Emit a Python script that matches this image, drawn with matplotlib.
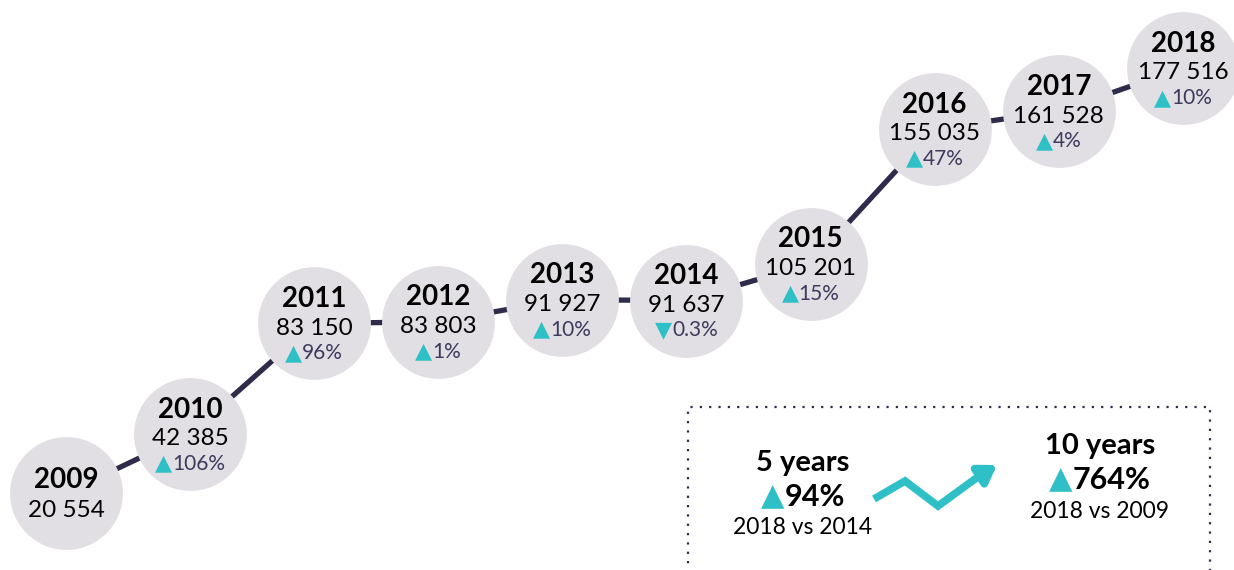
import matplotlib
matplotlib.use("Agg")
import matplotlib.pyplot as plt
from matplotlib.patches import Rectangle
from matplotlib.offsetbox import TextArea, HPacker, AnnotationBbox

# data
years = [2009, 2010, 2011, 2012, 2013, 2014, 2015, 2016, 2017, 2018]
values = [20554, 42385, 83150, 83803, 91927, 91637, 105201, 155035, 161528, 177516]
changes = ["", "106%", "96%", "1%", "10%", "0.3%", "15%", "47%", "4%", "10%"]
directions = ["", "up", "up", "up", "up", "down", "up", "up", "up", "up"]

summary_titles = ["5 years", "10 years"]
summary_pcts = ["94%", "764%"]
summary_subs = ["2018 vs 2014", "2018 vs 2009"]

NAVY = "#2f2b4a"
TEAL = "#2fbfc6"
CIRCLE = "#e1dfe3"
PCT_TXT = "#3e3a5e"
FONT = ["Lato", "DejaVu Sans"]

plt.rcParams["font.family"] = FONT

fig = plt.figure(figsize=(12.34, 5.70), dpi=100)
ax = fig.add_axes([0, 0, 1, 1])
ax.set_xlim(2008.468, 2018.412)
ax.set_ylim(-7880, 202607)
ax.axis("off")

ax.plot(years, values, color=NAVY, lw=3.8, zorder=1, solid_capstyle="butt")
ax.scatter(years, values, s=6600, color=CIRCLE, zorder=2, linewidths=0)

for yr, v, ch, d in zip(years, values, changes, directions):
    num = f"{v:,}".replace(",", " ")
    if ch:
        ax.annotate(str(yr), (yr, v), xytext=(0, 17.5), textcoords="offset points",
                    ha="center", va="center", fontsize=20, fontweight="bold",
                    color="black", zorder=3)
        ax.annotate(num, (yr, v), xytext=(0, -3.5), textcoords="offset points",
                    ha="center", va="center", fontsize=17.5, color="black", zorder=3)
        tri = "▲" if d == "up" else "▼"
        box = HPacker(children=[
            TextArea(tri, textprops=dict(color=TEAL, fontsize=16, family=["DejaVu Sans"])),
            TextArea(ch, textprops=dict(color=PCT_TXT, fontsize=15, family=FONT)),
        ], pad=0, sep=0, align="center")
        ab = AnnotationBbox(box, (yr, v), xybox=(0, -21.5), boxcoords="offset points",
                            frameon=False, box_alignment=(0.5, 0.5), zorder=3)
        ax.add_artist(ab)
    else:
        ax.annotate(str(yr), (yr, v), xytext=(0, 9.5), textcoords="offset points",
                    ha="center", va="center", fontsize=20, fontweight="bold",
                    color="black", zorder=3)
        ax.annotate(num, (yr, v), xytext=(0, -12.5), textcoords="offset points",
                    ha="center", va="center", fontsize=17.5, color="black", zorder=3)

# dotted summary box
ax.add_patch(Rectangle((688 / 1234, -0.05), (1210 - 688) / 1234, 0.05 + (570 - 407) / 570,
                       transform=ax.transAxes, fill=False, edgecolor=NAVY,
                       linestyle=(0, (1, 3.2)), lw=1.6, zorder=1, clip_on=False))

# summary text blocks (centre x, top y in pixels from top)
blocks = [(803, 463), (1100, 446)]
for (cx, cy), t, p, s in zip(blocks, summary_titles, summary_pcts, summary_subs):
    fx = cx / 1234
    ax.text(fx, 1 - cy / 570, t, transform=ax.transAxes, ha="center", va="center",
            fontsize=21, fontweight="bold", color="black")
    box = HPacker(children=[
        TextArea("▲", textprops=dict(color=TEAL, fontsize=22, family=["DejaVu Sans"])),
        TextArea(p, textprops=dict(color="black", fontsize=22, fontweight="bold", family=FONT)),
    ], pad=0, sep=0, align="center")
    ax.add_artist(AnnotationBbox(box, (fx, 1 - (cy + 34) / 570), xycoords="axes fraction",
                                 frameon=False, box_alignment=(0.5, 0.5)))
    ax.text(fx, 1 - (cy + 65) / 570, s, transform=ax.transAxes, ha="center", va="center",
            fontsize=16.5, color="black")

# zigzag arrow
zx = [874 / 1234, 905 / 1234, 938 / 1234, 975 / 1234]
zy = [1 - 499 / 570, 1 - 481 / 570, 1 - 506 / 570, 1 - 479 / 570]
ax.plot(zx, zy, transform=ax.transAxes, color=TEAL, lw=5.5, solid_joinstyle="miter",
        solid_capstyle="butt")
ax.annotate("", xy=(997 / 1234, 1 - 465 / 570), xytext=(zx[-1], zy[-1]),
            xycoords="axes fraction", textcoords="axes fraction",
            arrowprops=dict(arrowstyle="-|>,head_length=1.0,head_width=0.65",
                            color=TEAL, lw=5.5, shrinkA=0, shrinkB=0))

fig.savefig("out.png", dpi=100)
